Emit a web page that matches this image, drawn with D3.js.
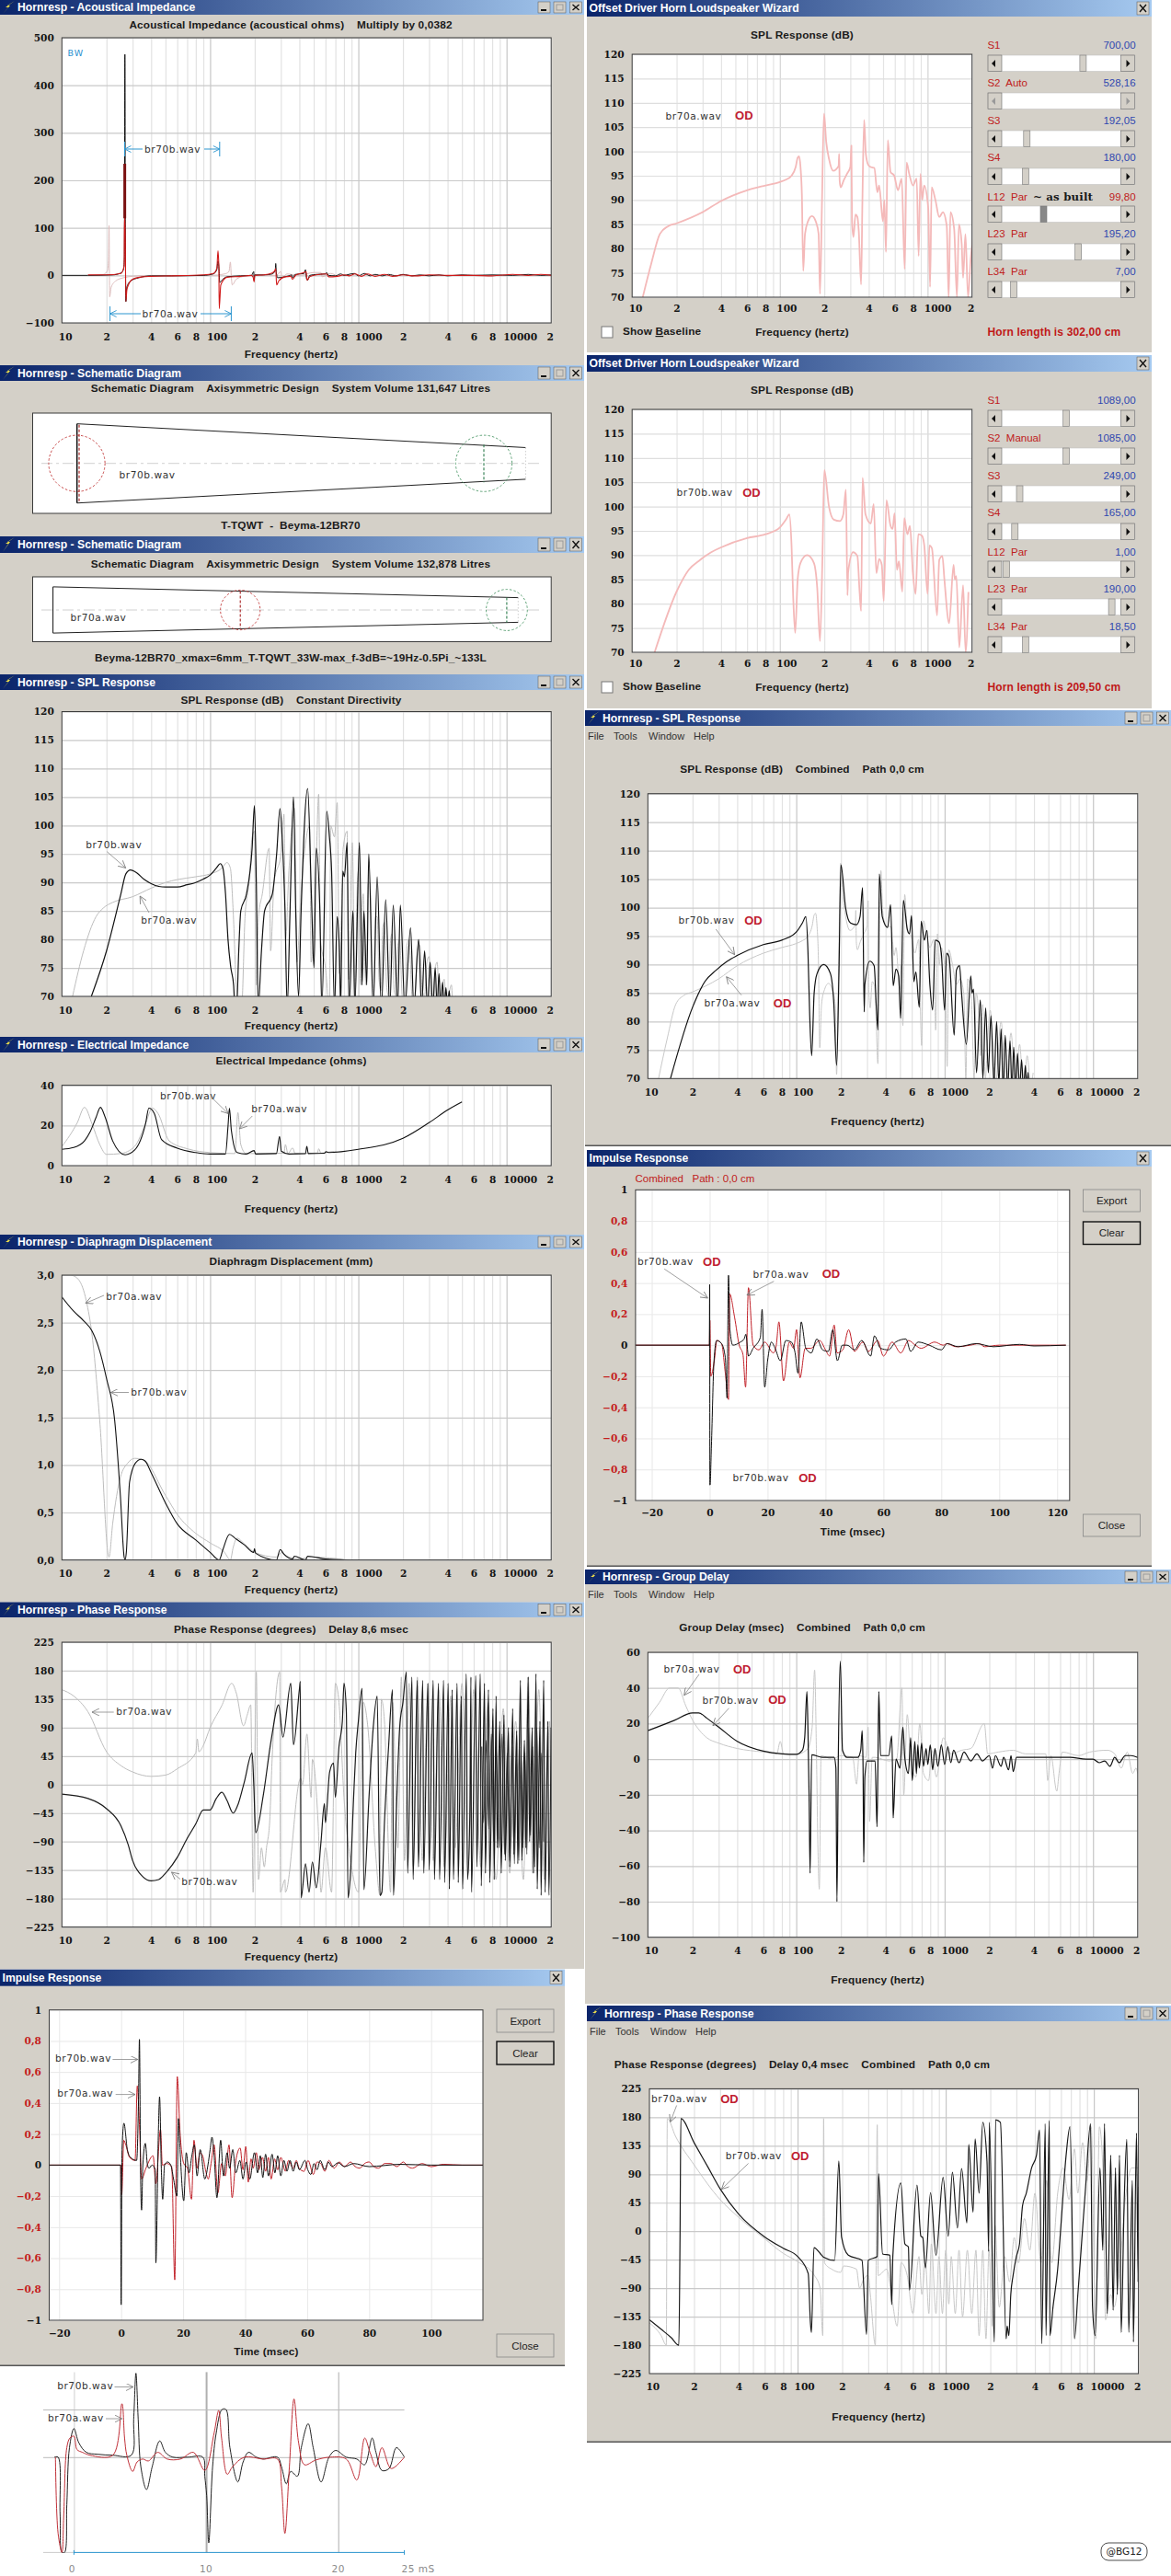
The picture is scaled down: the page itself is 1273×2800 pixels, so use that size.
<!DOCTYPE html>
<html><head><meta charset="utf-8">
<script src="https://cdn.jsdelivr.net/npm/d3@7/dist/d3.min.js"></script>
<style>
html,body{margin:0;padding:0;background:#fff}
svg{display:block}
text{font-family:"DejaVu Sans",sans-serif;white-space:pre}
.tick-l{font-family:"DejaVu Serif",serif;font-weight:700;font-size:10.6px;fill:#151515}
.ttl{font-family:"Liberation Sans",sans-serif;font-weight:700;font-size:11.8px;fill:#1a1a1a;letter-spacing:.15px}
.bar{font-family:"Liberation Sans",sans-serif;font-weight:700;font-size:12.2px;fill:#fff}
.ann{font-size:10.6px;fill:#333;letter-spacing:.55px}
.od{font-family:"Liberation Sans",sans-serif;font-weight:700;font-size:13px;fill:#c02030}
.menu{font-family:"Liberation Sans",sans-serif;font-size:11px;fill:#333}
.lab{font-family:"Liberation Sans",sans-serif;font-size:11.5px;fill:#c02020}
.val{font-family:"Liberation Sans",sans-serif;font-size:11.5px;fill:#3048b0;text-anchor:end}
</style></head><body><svg id="c" width="1273" height="2800"></svg>
<script>
// ---------- DATA (frequency Hz, value) ----------
const acousticBlack=[10,0,15,0,22,1,25,5,26,12,26.4,38,26.6,465,26.8,100,27,-55,27.4,-25,29,-12,33,-5,40,-1,55,-1,90,0,105,3,111,12,113,30,115,10,116,-15,120,-10,130,-3,160,-1,190,0,197,8,198,-10,200,1,230,1,262,3,275,10,277,25,280,5,285,-5,320,-3,340,-1,355,1,360,-5,375,2,430,4,440,12,448,-8,455,-10,470,0,520,2,600,3,610,6,630,0,700,-1,760,3,800,0,860,2,940,4,1000,-1,1100,4,1200,-1,1300,2,1450,-1,1600,2,1800,-1,2000,2,2300,-1,2600,1,3000,-1,3500,1,4000,-1,5000,1,6000,0,8000,1,11000,0,14000,2,17000,0,20000,1];
const acousticRed=[15,1,20,1,25,4,26.3,20,26.4,120,26.7,120,27,-55,27.5,-28,30,-8,35,-3,40,-2,55,-1,90,1,105,4,111,15,113,52,114.5,20,115.2,-70,118,-20,130,-4,160,-2,190,0,195,-4,198,-14,200,0,230,1,262,5,275,12,277,14,281,-20,290,-12,320,-3,350,-2,360,-8,380,1,430,6,445,8,450,-10,470,-3,520,1,610,3,630,-3,720,-2,800,1,870,-1,950,3,1050,-2,1150,3,1300,-2,1500,2,1700,-2,2000,1,2400,-1,3000,1,4000,0,6000,0,8000,-1,11000,2,14000,0,17000,2,20000,0];
const acousticRedPeak=[26.55,120,26.55,235];
const acousticPink=[15,0,19,2,20.3,10,20.6,30,20.8,105,21,-45,21.5,-25,23,-12,26,-5,30,-2,40,0,100,0,125,3,134,8,137,28,139,-3,141,-20,150,-8,170,-2,200,0,280,0,300,8,305,-5,330,3,400,0,500,6,560,6,570,-3,650,4,720,-2];
const splA4=[11.8,70,14,78,17,84,19,85.5,22,86.5,30,87.5,40,89,50,90,60,90.5,80,91,100,91.5,120,92.5,130,93.5,137,92.5,143,85,150,72,156,68,163,68,172,84,183,90,192,98,199,99,205,72,212,84,225,88,250,96,256,78,270,90,300,95,315,102,323,80,340,92,372,103,385,76,410,88,470,100,480,76,520,94,540,105.5,555,80,600,75,640,68,650,100,690,98,720,104,745,74,790,96,840,99,860,73,910,97,950,70,985,90,1000,92,1020,75,1040,72,1060,86,1080,88,1110,74,1130,72,1165,90,1200,90,1235,76,1270,70,1305,84,1340,84,1380,73,1420,71,1460,82,1500,83,1550,72,1600,70,1650,80,1690,81,1745,71,1800,70,1850,79,1900,80,1975,70,2050,68,2125,79,2200,80,2300,70,2400,68,2500,78,2600,79,2700,71,2800,70,2900,76,3000,77,3100,70,3200,68,3300,75,3400,76,3500,70,3600,68,3700,72,3800,73,3900,69,4000,68,4130,71,4250,72,4330,69,4400,69,4550,70,4700,68];
const splB4=[15.8,70,20,78,25,88,27,91.5,29,92.2,32,91.7,36,90.5,40,89.8,45,89.3,50,89.2,60,89.2,70,89.6,80,90,90,90.6,100,91.3,110,92.5,117,93.3,122,92.5,127,88,132,80,138,75,144,72,147,68,151,68,156,78,161,85,176,88,192,96,199,103.5,205,90,211,68,222,78,233,85,263,88,281,95,296,103,306,98,320,85,331,68,346,85,365,105,378,85,395,70,411,85,455,106.5,482,88,502,75,520,96,550,85,567,68,612,102.5,638,98,660,92,690,68,720,84,745,78,760,68,785,92,805,91,840,97,865,68,920,85,946,68,1017,97,1060,72,1090,85,1140,72,1175,95,1260,68,1340,91,1430,68,1530,87,1630,68,1720,86,1840,68,1920,86,2060,68,2250,82,2370,68,2550,80,2670,68,2800,78,2930,68,3050,76,3180,68,3300,75,3400,68,3500,74,3600,68,3700,72.5,3800,68,3900,71.5,4000,68,4100,71,4200,68,4300,69,4400,68];
const odA=[11.8,70,13.5,77,15.4,83,17.5,84.6,20,85.2,30,87.5,40,89.8,60,92,80,93,100,93.7,110,94.2,120,95,128,96.8,132,98.7,135,99,138,96.8,141,91,144,75.4,148,83,155,85.6,165,86.7,175,85.6,183,83,187,70.7,193,90,199,107.8,206,102,215,98.5,230,96,250,97,252,99.5,254,94,258,92.6,270,94,285,95.4,300,96.8,305,101.2,308,85.6,315,82.4,325,87,335,86.5,342,83.7,355,72.6,362,89.3,372,106.5,382,99.5,397,97.2,411,96.8,436,96.6,457,91.6,470,93,499,85.6,510,90,523,79.3,538,102.3,561,95.8,595,95,630,92,668,94.4,700,75.8,721,97.7,751,95.4,796,93,844,94.4,870,78.5,895,95.4,920,90,948,93,1010,88.4,1040,72.1,1066,92.6,1130,90,1200,86.5,1270,87.5,1348,84.7,1390,69.7,1428,87.5,1514,84,1580,70,1630,85,1702,81,1740,74,1804,83,1880,70,1960,78,2028,82,2200,69,2400,80,2600,69,2800,78,3000,69,3200,76,3400,68,3600,74,3800,69,3950,71];
const odB=[14.2,70,20,82.5,24.2,87,28.8,89,34.3,90.6,40,91.6,60,93.5,80,94.3,100,95.7,110,97.3,116,98.4,120,92,123,81.7,127,74,132,85,138,88.4,153,90,170,88.4,179,83.3,187,72.3,194,88.7,200,107.5,215,100,232,97.3,255,97,269,98.4,280,103.5,287,81.7,290,86.5,313,90.6,335,89.8,347,82.2,355,78.5,363,105.9,380,98.4,413,96.5,432,100.5,450,86.3,470,89.2,490,88,505,80.6,527,101.3,560,96.2,580,95.4,598,98.6,620,87,640,88.7,675,82.5,695,97.6,730,94.3,760,96,795,86.5,830,82,865,94.3,915,94,950,92,1000,82,1030,92,1070,91.4,1160,77.6,1200,89,1260,89.8,1300,85,1400,76,1500,88,1530,85,1565,85.7,1640,71,1740,83.8,1810,70,1890,82.4,1970,71,2050,81,2150,69,2240,80,2320,69,2400,78.7,2480,68,2560,77.6,2660,68,2760,76.6,2840,68,2920,75.5,3010,68,3100,74.4,3200,68,3300,73.3,3400,68,3500,72.3,3580,68,3650,71.1,3700,68,3750,70];
const impedB=[10,8.1,12,9,14.2,12.3,15.5,16.8,17,24,18.2,29,19.6,24,22,12.3,26.7,5.4,31,7.8,36.7,21,38.6,28.6,42,26,47,13,60,8.7,80,6.5,100,5.8,127,5.8,132,19.5,135,28.6,139,17.7,152,6.5,175,5.8,198,7.5,203,5.8,280,6,294,14.5,302,7.2,340,5.8,440,6,449,9.6,460,6,590,6.2,605,6.9,630,6.5,1000,8.1,2000,13.6,3000,21.4,4000,27.7,5000,31.7];
const impedA=[10,9.5,12.7,21.4,14.2,29,16,20.6,18,10.5,20,5.6,24.8,6,31,9.6,36.7,21,40.7,28.6,44.5,26,53,12.3,71,8.3,100,6.5,147,6,154,26.4,161,10.5,175,6,315,6.2,322,10.5,335,6,360,8.8,375,6,530,6.3,540,8.4,560,6.2,690,7.1,720,6.8];
const dispB=[10,2.77,12,2.62,14,2.52,16,2.41,18,2.2,20,1.91,22.7,1.47,24.8,.68,26.3,.03,26.7,0,27.2,.08,28.6,.82,31.3,1.02,34.2,1.06,36.5,1.04,40,.92,50,.6,60,.38,80,.21,100,.08,115,0,122,.11,135,.27,147,.23,170,.16,197,.08,199,.12,203,.07,280,0,297,.11,315,.06,360,.01,370,.04,440,0,455,.04,600,.01,800,0];
const dispA=[11.6,3,13,2.95,14.6,2.73,16,2.36,18,1.47,20.8,.03,22,.38,24.8,.87,27.8,1.02,31,1.07,35,1.06,50,.68,60,.48,80,.28,100,.18,125,.08,137,0,143,.13,152,.23,170,.17,200,.08,280,.03,305,.08,330,.04,400,.01,480,.03,860,0];
const phaseW_A=[10,150,12,140,15,115,20,52,25,30,30,20,40,13,50,15,60,25,80,50,82,72,84,52,90,62,100,90,120,125,140,160,150,145,168,93,178,110,188,126,195,-170,205,178,212,-150,222,-100,232,-130,240,-100,252,-60,262,40,295,178,298,-170,320,-150,322,-170,408,10,420,0,450,80,480,-20,490,40,535,-60,560,-170,600,-100,660,-170,700,160,740,130,800,-20,900,-130,1000,-170,1080,130,1160,90,1300,-100,1400,-175,1430,135,1500,100,1650,-170,1700,130,1850,-100,1950,170,2050,-120,2200,160,2350,-130,2500,170,2700,-120,2950,160,3200,-120,3500,150,3800,-130,4200,140,4500,-100,5000,160,5500,-140,6000,150,6700,-130,7500,130,8500,-150,9500,120,10500,-140,11500,100,13000,-150,14000,170,15000,-140,16500,150,18000,-150,19500,100,20000,-170];
const phaseW_B=[10,-15,15,-22,20,-38,25,-65,28,-95,30,-120,35,-145,40,-152,45,-150,50,-140,60,-115,70,-85,80,-62,90,-40,100,-40,110,-22,120,-12,130,-25,143,-45,155,-30,170,4,192,50,197,0,203,-76,228,-18,258,70,290,126,310,75,350,160,365,63,400,150,406,163,411,-179,440,-125,465,-170,490,-122,520,-163,560,-90,590,-30,600,-60,640,20,680,34,700,-20,740,60,780,100,800,160,830,115,852,-179,880,-150,930,-18,960,50,1000,100,1060,152,1090,-166,1180,-20,1260,90,1340,140,1400,-175,1440,-170,1500,-60,1600,60,1700,150,1725,-175,1800,-50,1900,90,2000,130,2110,178,2150,-140,2300,170,2340,-150,2500,165,2540,-130,2720,165,2760,-140,2950,160,3000,-135,3200,165,3260,-150,3470,160,3530,-150,3760,165,3820,-155,4040,160,4110,-165,4300,150,4380,-150,4640,160,4720,-155,4950,140,5050,-165,5350,175,5450,-150,5650,-50,5750,170,5800,-170,6200,172,6300,-130,6650,175,6750,-160,7100,160,7200,-140,7550,150,7700,-155,8100,120,8250,-150,8500,140,8650,-100,9000,100,9200,-140,9600,110,9800,-120,10300,90,10500,-130,11000,120,11200,-110,11700,85,11900,-125,12400,165,12700,-120,13200,70,13500,-100,14000,170,14300,-90,14900,90,15200,-140,15800,175,16100,-165,16800,100,17100,-175,17800,165,18200,-170,19000,100,19300,-175,20000,90];
const phaseW_Band=[6800,60,7000,-60,7300,70,7600,-70,7900,80,8200,-90,8500,60,8900,-100,9300,80,9700,-110,10100,50,10500,-120,10900,60,11300,-125,11700,40,12100,-120,12500,60,12900,-100,13300,50,13700,-110,14100,90,14500,-80,15000,60,15500,-130,16000,90,16600,-100,17200,50,17800,-90];
const phaseR_B=[10,-140,12,-155,14,-168,15.8,-180,16.1,0,16.3,178,20,140,25,100,30,67,40,27,60,-9,80,-27,100,-40,118,-67,122,-143,124,-160,129,-26,150,-41,178,-46,190,111,198,-9,220,-38,272,-46,292,-163,300,-46,345,-40,352,91,375,-36,420,-38,432,-116,440,-38,498,76,530,-20,560,-25,570,-93,640,73,680,-8,700,-10,730,-58,790,61,860,-38,960,85,1040,-8,1110,93,1200,5,1280,99,1390,13,1430,137,1530,30,1580,146,1680,60,1780,172,1900,110,1950,-32,1970,172,2130,-175,2170,176,2340,172,2560,-170,2600,-150,2670,-165,2750,-100,2850,-70,3000,-40,3150,-20,3300,40,3500,60,3800,100,4100,120,4300,160,4450,-178,4700,170,4750,-165,5000,175,5050,-165,5300,-120,5700,-60,6000,10,6500,120,6900,165,7400,-170,7800,-100,8200,-30,8800,70,9500,170,9800,-120,10200,-165,11000,100,11500,-30,11800,170,12300,-130,12600,-50,13000,120,13500,-125,14000,100,14400,-100,14900,120,15300,-160,16000,40,16700,145,17200,-160,18200,80,18500,-175,19400,155,19900,-80,20000,70];
const phaseR_A=[10,-145,12,-165,13,-180,13.2,178,15,150,20,105,30,50,40,22,60,-12,80,-35,100,-48,130,-70,142,-90,148,-165,150,178,152,-50,170,-60,195,-65,205,-55,250,-60,262,-90,280,-75,300,-70,310,-100,335,-180,345,168,350,-70,400,-60,430,-100,470,-150,500,-50,550,-70,600,-130,660,-40,690,-100,730,-50,770,-130,800,-20,860,-130,900,-40,950,-130,1000,-30,1050,-115,1090,-40,1160,-130,1230,-30,1300,-135,1400,-30,1500,-130,1600,-30,1680,-165,1780,-30,1870,-170,1960,-30,2060,-150,2150,10,2300,-120,2500,-40,2700,-80,2900,-10,3100,-50,3400,20,3700,-30,4000,60,4400,-50,4800,80,5200,-50,5700,60,6200,100,6800,50,7400,130,7800,60,8400,140,9000,80,9600,165,10300,-170,10900,165,11500,100,12000,-140,13000,-100,13700,-120,14500,-90,16500,60,18000,100,20000,100];
const gdB=[10,16,15,21.7,20,26,22,26,25,23,30,18,40,10,60,4.5,80,3,100,2.7,110,5,114,12,118,38,120,15,122,-20,124,-64,127,2.5,150,1,180,1,185,-5,188,-80,192,0,198,55,205,5,220,1,260,1,272,5,278,16,282,-5,285,-58,290,-10,300,-1,340,-1,350,-38,355,-5,360,38,370,2,420,2,440,13,447,-15,450,-33,470,0,500,-5,523,18,540,0,570,-8,590,12,605,-12,630,10,645,-8,660,8,675,-5,700,9,720,-4,750,6,770,-3,800,8,830,-6,860,6,900,-4,950,8,1000,-3,1050,7,1100,-2,1150,5,1250,-2,1350,4,1500,-1,1650,3,1800,-1,2000,2,2100,-5,2200,2,2400,-4,2500,1,2700,-6,2800,2,2900,-7,3050,1,3500,1,5000,1,7000,1,9000,0,10000,0,11000,-2,12000,-1,13000,-4,14000,1,15000,-2,16500,2,18000,2,20000,1];
const gdA=[10,23,12,32,14,40,16,40,18,30,20,22,25,12,30,9,40,6,60,4,74,3,78,10,82,3,100,2.7,120,6,128,18,133,50,137,0,140,-50,143,-73,147,2,175,0,200,2,240,1,255,-14,265,2,295,1,305,18,312,-35,325,1,340,1,420,-1,475,0,515,40,530,-20,560,25,590,0,640,-10,680,20,720,-8,780,-12,820,5,880,-10,980,12,1100,3,1300,5,1500,6,1850,20,1950,3,2300,4,2900,5,3500,3,4800,3,4950,-12,5200,2,5700,-18,5900,-8,6200,4,8000,2,9500,4,12500,5,14000,3,15500,-5,17000,4,18500,-8,19500,-5,20000,-8];
// impulse responses (msec, amplitude)
const impB=[-23.2,0,-.2,0,0,-.9,.3,.1,.9,.27,2,.1,3,.05,5,.03,5.6,.42,5.9,.81,6.3,-.1,6.6,-.29,7,0,7.8,.14,8.5,0,9,-.02,10,0,11,-.03,11.2,-.63,12,.2,12.4,.44,13,-.05,13.4,-.22,14,0,15,.02,16,0,17,-.1,18,-.2,18.5,.3,19,.1,20.2,-.23,21,.08,21.9,-.05,22.8,.06,23.6,.13,24.5,-.07,25.5,.1,27,-.09,28,0,28.7,.1,29.3,.18,30,.06,30.9,-.21,32.1,.16,33,-.07,34.2,.08,35,-.02,36,.1,37,-.05,38.3,.03,39.3,-.09,40.3,.02,41.5,-.09,43,.08,44,-.05,44.9,.06,45.7,-.08,46.6,.07,47.5,-.07,48.7,.07,49.6,-.05,50.5,.06,51.5,-.07,52.5,.03,53.5,-.04,54.5,.03,55.5,-.04,56.5,.02,57.5,-.03,59.3,.03,60.2,-.03,61.2,-.06,62.2,.01,63.2,-.03,64.2,.03,65.7,-.03,66.8,.02,68,-.01,70,.015,72,-.01,75,.01,80,-.01,90,.005,100,0,116.7,0];
const impR=[-23.2,0,-.1,0,.2,-.19,.85,.16,1.5,.13,2.7,.05,4.5,.03,5.2,.51,5.9,.26,6.6,-.09,8,-.02,10.3,.06,11.2,-.12,12.7,.23,13.3,0,14.8,.01,16.3,-.01,17.3,-.74,18.1,.57,19,.21,20.2,.01,21.4,-.02,22.7,-.22,23.5,.16,24.5,-.02,25.4,.08,26.3,.06,27.2,-.03,28.1,-.09,29,.01,30,.13,31.2,-.18,32.4,.01,33.6,-.07,34.8,.13,35.8,-.21,37,.03,38.4,.11,39.3,-.03,40.2,.12,41,-.11,41.9,.04,42.6,-.02,43.6,.08,44.4,-.03,45.6,.05,46.6,-.04,47.5,.05,48.4,-.09,49.5,.04,50.5,-.03,51.5,.05,53,-.04,54,.03,55.5,-.02,56.5,.03,57.4,-.02,59,-.04,60.3,.03,62,-.06,63.2,.02,64.4,.01,65.7,-.04,67,.03,68.7,-.02,70.4,.02,72,-.01,74,.02,75.5,-.01,77,-.02,78.5,.01,80,.02,81.5,-.01,83,-.02,85,.01,87,.01,89,-.01,91,.02,92.5,-.01,94,-.02,97,.01,100,-.01,104,.005,110,0,116.7,0];
const impCB=[-25.6,0,-.1,0,0,.39,.07,-.9,.13,-.9,.6,-.65,1.5,-.1,2.4,.03,4.1,.01,5.4,-.08,6,-.34,6.5,.45,7,.1,8,0,10.6,.02,11.9,.04,12.5,.07,13.4,-.07,15,-.02,17.5,.05,18.1,.23,19,-.27,20,-.1,21.3,.02,22.6,-.02,24.4,-.1,26.3,.03,28.2,.02,29.5,-.05,30.5,-.18,31.6,.15,33.2,-.02,35.1,-.05,37,.04,39,-.03,41,-.04,42.5,.1,44.1,-.1,45.8,0,47.5,0,50,-.03,52.5,.03,55.6,-.07,56.9,.06,59,-.02,61.7,-.03,64.2,.02,67.8,.04,69.4,-.04,72,.02,75.8,0,80,-.03,82,.01,85.8,-.01,92,.01,98,-.01,107,.005,112,-.005,123,0];
const impCR=[-25.6,0,-.1,0,.07,.16,.4,-.2,1.6,-.1,2.5,.03,4.1,.01,5.4,-.18,6.5,-.35,6.9,.33,8.6,.18,10.2,0,11.5,-.06,12.4,-.27,13.4,.37,15,0,17,-.03,19,.02,22,-.05,23,0,23.9,.15,25.5,-.23,27.5,.02,29,-.02,30,.1,31.2,-.21,33,-.02,34.9,-.02,38,.03,40,-.03,41.4,-.07,43,.13,44,-.05,46,-.03,48,.1,50,-.04,52.9,.02,54.8,-.04,58,.03,60,-.07,63,.02,66,-.05,68.7,.03,71,0,73,-.02,77.7,.02,80.6,0,82,.01,85,-.01,90,0,93,.01,95,-.01,100,0,106,0,123,0];
const zoomB=[-1.48,0,-1.2,0,-1.05,-.6,-.9,-1,-.71,-1,-.54,-.5,-.34,.1,0,.3,.37,.15,.94,.05,1.79,.03,2.94,.02,4.34,.02,4.52,.4,4.69,.88,4.86,.4,5.06,-.1,5.49,-.34,5.92,-.1,6.49,.17,6.92,.05,7.48,0,8.62,0,9.75,0,9.9,-.2,10.04,-.4,10.2,-.9,10.49,-.1,10.76,.25,11.2,.5,11.5,.5,11.8,.1,12.4,-.26,12.8,-.05,13.2,.05,13.8,0,14.3,-.02,15.4,0,15.7,-.1,16.07,-.28,16.4,-.15,16.9,-.2,17.2,.1,17.72,.35,18.1,.1,18.7,-.26,19.3,0,19.8,.07,20.6,0,21.4,-.02,21.99,-.08,22.56,.2,22.85,.05,23.3,-.14,23.84,-.12,24.4,.1,25,0];
const zoomR=[-1.4,0,-1.2,-.8,-.91,-1,-.77,-.6,-.54,.1,-.31,.2,0,.22,.23,.08,.65,.05,1.22,.02,2.94,.02,3.63,.56,3.83,.2,4.0,.02,4.44,-.15,4.78,-.05,5.2,-.02,5.63,-.04,6.34,.05,7.05,-.02,8.05,-.02,9.04,.05,9.9,-.14,10.6,.25,10.95,.49,11.17,.2,11.6,-.18,12.0,-.1,12.9,0,14.3,-.02,15.4,-.02,15.7,-.3,15.96,-.8,16.3,-.1,16.65,.61,17.0,.15,17.44,-.08,18.3,-.03,19.4,0,20.6,-.02,21.4,-.24,22.0,.2,22.4,.05,22.85,-.1,23.3,.1,24.0,-.12,25,0];
// schematics (cm)
const schemB={station:[0,209.5],half:[18.5,7.4],driver:1,port:190,driverHalf:18,portHalf:8.8};
const schemA={station:[0,121.6,302],half:[15,12.2,8],driver:121.6,port:294.6,driverHalf:12.2,portHalf:8};
// sliders
const sliderLabelsA=["S1","S2  Auto","S3","S4","L12  Par","L23  Par","L34  Par"];
const sliderValsA=["700,00","528,16","192,05","180,00","99,80","195,20","7,00"];
const sliderPosA=[.68,null,.21,.2,.35,.64,.1];
const sliderLabelsB=["S1","S2  Manual","S3","S4","L12  Par","L23  Par","L34  Par"];
const sliderValsB=["1089,00","1085,00","249,00","165,00","1,00","190,00","18,50"];
const sliderPosB=[.54,.54,.15,.11,.04,.92,.2];
const gridFreqLabels=[[10,"10"],[20,"2"],[40,"4"],[60,"6"],[80,"8"],[100,"100"],[200,"2"],[400,"4"],[600,"6"],[800,"8"],[1000,"1000"],[2000,"2"],[4000,"4"],[6000,"6"],[8000,"8"],[10000,"10000"],[20000,"2"]];
const INK="#111",GR="#bdbdbd",PINK="#f4b9b9",PGR="#dcbcbc";

// ---------- HELPERS ----------
const svg=d3.select("#c");
const pairs=a=>d3.range(0,a.length,2).map(i=>[a[i],a[i+1]]);
const zip=(t,v)=>t.map((d,i)=>[d,v[i]]);
let uid=0;
const defs=svg.append("defs");
const grad=defs.append("linearGradient").attr("id","tb");
grad.append("stop").attr("offset","0").attr("stop-color","#0a246a");
grad.append("stop").attr("offset","1").attr("stop-color","#a6caf0");
const mk=defs.append("marker").attr("id","ah").attr("markerWidth",9).attr("markerHeight",8).attr("refX",8).attr("refY",4).attr("orient","auto").attr("markerUnits","userSpaceOnUse");
mk.append("path").attr("d","M0,0L8,4L0,8").attr("fill","none").attr("stroke","#777").attr("stroke-width",.8);

function win(x,y,w,h,bar,barH,o={}){
  const g=svg.append("g");
  g.append("rect").attr("x",x).attr("y",y).attr("width",w).attr("height",h).attr("fill","#d4d0c8");
  if(o.edge)g.append("rect").attr("x",x).attr("y",y+h-1.5).attr("width",w).attr("height",1.5).attr("fill","#555");
  g.append("rect").attr("x",x).attr("y",y).attr("width",w).attr("height",barH).attr("fill","url(#tb)");
  let tx=x+2.5;
  if(o.icon){
    g.append("path").attr("d",`M${x+16},${y+1}L${x+6},${y+8}L${x+9},${y+8}L${x+3},${y+barH-1}L${x+11},${y+6}L${x+8},${y+6}Z`).attr("fill","#f2e24a");
    tx=x+19;
  }
  g.append("text").attr("class","bar").attr("x",tx).attr("y",y+barH/2+4).text(bar);
  const btn=(bx,ch)=>{
    g.append("rect").attr("x",bx).attr("y",y+2).attr("width",13).attr("height",barH-4).attr("fill","#d4d0c8").attr("stroke","#555").attr("stroke-width",.5);
    if(ch==="x")g.append("path").attr("d",`M${bx+3},${y+5}L${bx+10},${y+barH-5}M${bx+10},${y+5}L${bx+3},${y+barH-5}`).attr("stroke","#111").attr("stroke-width",1.4);
    if(ch==="m")g.append("path").attr("d",`M${bx+3},${y+barH-5}h6`).attr("stroke","#111").attr("stroke-width",2);
    if(ch==="s")g.append("rect").attr("x",bx+3).attr("y",y+5).attr("width",7).attr("height",barH-10).attr("fill","none").attr("stroke","#999");
  };
  const r=x+w;
  if(o.three){btn(r-50,"m");btn(r-33,"s");btn(r-15.5,"x");}
  else btn(r-16,"x");
  if(o.menu){
    ["File","Tools","Window","Help"].forEach((m,i)=>g.append("text").attr("class","menu").attr("x",x+[3,31,69,118][i]).attr("y",y+barH+15).text(m));
  }
}
function title(cx,y,t,cls="ttl"){
  svg.append("text").attr("class",cls).attr("x",cx).attr("y",y+4).attr("text-anchor","middle").text(t);
}
function ann(x,y,t,anchor="middle"){svg.append("text").attr("class","ann").attr("x",x).attr("y",y+4).attr("text-anchor",anchor).text(t);}
function od(x,y){svg.append("text").attr("class","od").attr("x",x).attr("y",y+4.5).attr("text-anchor","middle").text("OD");}
function arrow(x1,y1,x2,y2){svg.append("line").attr("x1",x1).attr("y1",y1).attr("x2",x2).attr("y2",y2).attr("stroke","#888").attr("stroke-width",.8).attr("marker-end","url(#ah)");}

function chart(c){
  const g=svg.append("g");
  const W=c.x1-c.x0,H=c.y1-c.y0;
  g.append("rect").attr("x",c.x0).attr("y",c.y0).attr("width",W).attr("height",H).attr("fill","#fff");
  const y=d3.scaleLinear().domain(c.yDomain).range([c.y1,c.y0]);
  const log=!c.time;
  const x=log?d3.scaleLog().domain(c.xDomain||[10,20000]).range([c.x0,c.x1]):d3.scaleLinear().domain(c.xDomain).range([c.x0,c.x1]);
  let vt;
  if(log){
    vt=[];[10,100,1000,10000].forEach(k=>{for(let m=1;m<10;m++){const f=k*m;if(f>=x.domain()[0]&&f<=x.domain()[1])vt.push(f);}});
    const minor=vt.filter(f=>![10,100,1000,10000].includes(f));
    g.append("g").attr("transform",`translate(0,${c.y1})`).call(d3.axisBottom(x).tickValues(minor).tickSize(-H).tickFormat("")).call(s=>{s.select(".domain").remove();s.selectAll("line").attr("stroke",c.minorGrid||"#e2e2e2").attr("stroke-width",1.2)});
    g.append("g").attr("transform",`translate(0,${c.y1})`).call(d3.axisBottom(x).tickValues([100,1000,10000].filter(f=>f<=x.domain()[1])).tickSize(-H).tickFormat("")).call(s=>{s.select(".domain").remove();s.selectAll("line").attr("stroke",c.majorGrid||"#c6c6c6").attr("stroke-width",1.2)});
  }else{
    g.append("g").attr("transform",`translate(0,${c.y1})`).call(d3.axisBottom(x).tickValues(c.xTicks).tickSize(-H).tickFormat("")).call(s=>{s.select(".domain").remove();s.selectAll("line").attr("stroke","#e8e8e8")});
  }
  g.append("g").attr("transform",`translate(${c.x0},0)`).call(d3.axisLeft(y).tickValues(c.yTicks).tickSize(-W).tickFormat("")).call(s=>{s.select(".domain").remove();s.selectAll("line").attr("stroke",c.time?"#e8e8e8":(c.hGrid||"#c9c9c9")).attr("stroke-width",c.time?1:1.2)});
  const id="clip"+(uid++);
  defs.append("clipPath").attr("id",id).append("rect").attr("x",c.x0).attr("y",c.y0).attr("width",W).attr("height",H);
  const line=d3.line().x(d=>x(d[0])).y(d=>y(d[1])).curve(d3.curveMonotoneX);
  const sg=g.append("g").attr("clip-path",`url(#${id})`);
  c.series.forEach(s=>sg.append("path").attr("d",line(s.d)).attr("fill","none").attr("stroke",s.c).attr("stroke-width",s.w||1.1).attr("stroke-linejoin","round"));
  g.append("rect").attr("x",c.x0).attr("y",c.y0).attr("width",W).attr("height",H).attr("fill","none").attr("stroke","#3a3a3a").attr("stroke-width",1);
  const fmtY=new Map(c.yTicks.map((v,i)=>[v,c.yLabels?c.yLabels[i]:String(v).replace("-","\u2212")]));
  const ya=g.append("g").attr("transform",`translate(${c.x0-8.5},0)`).call(d3.axisLeft(y).tickValues(c.yTicks).tickSize(0).tickPadding(0).tickFormat(d=>fmtY.get(d)));
  ya.select(".domain").remove();
  ya.selectAll("text").attr("class","tick-l").style("fill",d=>(c.redY&&d!==0&&Math.abs(d)!==1)?"#c41e1e":null);
  const lab=c.xLabelY-c.y1;
  if(log){
    const lf=gridFreqLabels.filter(d=>d[0]<=x.domain()[1]);
    const fm=new Map(lf);
    const xa=g.append("g").attr("transform",`translate(0,${c.y1})`).call(d3.axisBottom(x).tickValues(lf.map(d=>d[0])).tickSize(0).tickPadding(lab-5).tickFormat(d=>fm.get(d)));
    xa.select(".domain").remove();
    xa.selectAll("text").attr("class","tick-l").each(function(d){
      if([10,100,1000,10000].includes(d))d3.select(this).attr("text-anchor","start").attr("dx",-4);
      else if(d===x.domain()[1])d3.select(this).attr("dx",-1.5);
    });
  }else{
    const xa=g.append("g").attr("transform",`translate(0,${c.y1})`).call(d3.axisBottom(x).tickValues(c.xTicks).tickSize(0).tickPadding(lab-5).tickFormat(d=>String(d).replace("-","\u2212")));
    xa.select(".domain").remove();
    xa.selectAll("text").attr("class","tick-l");
  }
  if(c.xTitle)title(c.xTitleCx||(c.x0+c.x1)/2,c.xTitleY,c.xTitle);
  return {x,y};
}
const Lx={x0:67.3,x1:599.2},Rx={x0:704.3,x1:1236.8};
const spl=[70,75,80,85,90,95,100,105,110,115,120];
const phaseT=[-225,-180,-135,-90,-45,0,45,90,135,180,225];
const impT=[-1,-.8,-.6,-.4,-.2,0,.2,.4,.6,.8,1];
const impL=["\u22121","\u22120,8","\u22120,6","\u22120,4","\u22120,2","0","0,2","0,4","0,6","0,8","1"];
const FH="Frequency (hertz)";

// ---------- LEFT COLUMN ----------
win(0,0,635,397,"Hornresp - Acoustical Impedance",16,{icon:1,three:1});
title(316,26.5,"Acoustical Impedance (acoustical ohms)    Multiply by 0,0382");
chart({...Lx,y0:41,y1:351,yDomain:[-100,500],yTicks:[-100,0,100,200,300,400,500],xLabelY:367,xTitle:FH,xTitleY:384.5,xTitleCx:316.5,
 series:[{d:pairs(acousticPink),c:PGR,w:1},{d:pairs(acousticBlack),c:INK,w:1},{d:pairs(acousticRed),c:"#d01818",w:1.1},{d:pairs(acousticRedPeak),c:"#7a1010",w:3}]});
svg.append("text").attr("x",73.5).attr("y",61).attr("font-size",9.5).attr("fill","#2b8fcf").attr("letter-spacing",1).text("BW");
function blueSpan(x1,x2,y,tx1,tx2){
  const B="#2b95cf";
  [[tx1,x1],[tx2,x2]].forEach(([a,b])=>svg.append("line").attr("x1",a).attr("y1",y).attr("x2",b).attr("y2",y).attr("stroke",B).attr("stroke-width",1));
  [x1,x2].forEach(v=>svg.append("line").attr("x1",v).attr("x2",v).attr("y1",y-8).attr("y2",y+8).attr("stroke",B).attr("stroke-width",1));
  [[x1,1],[x2,-1]].forEach(([v,d])=>svg.append("path").attr("d",`M${v+d*7},${y-3.5}L${v},${y}L${v+d*7},${y+3.5}`).attr("fill","none").attr("stroke",B).attr("stroke-width",.9));
}
blueSpan(135.5,238.8,162,155,222);ann(187.5,162,"br70b.wav");
blueSpan(119.6,251.4,341,153,218);ann(185,341,"br70a.wav");

function schematic(s,b,left,right,cy,pxR,driverR,portR){
  const x=d3.scaleLinear().domain([0,d3.max(s.station)]).range([left,right]);
  const k=(right-left)/d3.max(s.station);
  const g=svg.append("g");
  g.append("line").attr("x1",b.x0).attr("x2",b.x1).attr("y1",cy).attr("y2",cy).attr("stroke","#d0d0d0").attr("stroke-dasharray","12 4 3 4");
  const top=d3.line().x(d=>x(d[0])).y(d=>cy-d[1]*k),bot=d3.line().x(d=>x(d[0])).y(d=>cy+d[1]*k);
  const pts=zip(s.station,s.half);
  g.append("path").attr("d",top(pts)).attr("fill","none").attr("stroke","#222").attr("stroke-width",1);
  g.append("path").attr("d",bot(pts)).attr("fill","none").attr("stroke","#222").attr("stroke-width",1);
  g.append("line").attr("x1",left).attr("x2",left).attr("y1",cy-s.half[0]*k).attr("y2",cy+s.half[0]*k).attr("stroke","#111").attr("stroke-width",b.wall||1);
  const last=s.half[s.half.length-1];
  g.append("line").attr("x1",right).attr("x2",right).attr("y1",cy-last*k).attr("y2",cy+last*k).attr("stroke","#ccc").attr("stroke-dasharray","1.5 2");
  g.append("circle").attr("cx",x(s.driver)-(b.dshift||0)).attr("cy",cy).attr("r",driverR).attr("fill","none").attr("stroke","#c23a3a").attr("stroke-width",.9).attr("stroke-dasharray","2.5 2");
  g.append("line").attr("x1",x(s.driver)).attr("x2",x(s.driver)).attr("y1",cy-s.driverHalf*k).attr("y2",cy+s.driverHalf*k).attr("stroke","#a82020").attr("stroke-width",1.1).attr("stroke-dasharray","3 2");
  g.append("circle").attr("cx",x(s.port)).attr("cy",cy).attr("r",portR).attr("fill","none").attr("stroke","#4f9a6a").attr("stroke-width",.9).attr("stroke-dasharray","2.5 2");
  g.append("line").attr("x1",x(s.port)).attr("x2",x(s.port)).attr("y1",cy-s.portHalf*k).attr("y2",cy+s.portHalf*k).attr("stroke","#2e7d4e").attr("stroke-width",1.1).attr("stroke-dasharray","3 2");
}
win(0,397,635,186,"Hornresp - Schematic Diagram",17,{icon:1,three:1});
title(316,422,"Schematic Diagram    Axisymmetric Design    System Volume 131,647 Litres");
svg.append("rect").attr("x",35.5).attr("y",449).attr("width",563.7).attr("height",109).attr("fill","#fff").attr("stroke","#3a3a3a");
schematic(schemB,{x0:45,x1:590,wall:1.5,dshift:2.5},83.7,571.4,503.7,0,30.6,30.6);
ann(160,516,"br70b.wav");
title(316,571,"T-TQWT  -  Beyma-12BR70");

win(0,583,635,150,"Hornresp - Schematic Diagram",18,{icon:1,three:1});
title(316,613,"Schematic Diagram    Axisymmetric Design    System Volume 132,878 Litres");
svg.append("rect").attr("x",35.5).attr("y",627).attr("width",563.7).attr("height",70.5).attr("fill","#fff").attr("stroke","#3a3a3a");
schematic(schemA,{x0:45,x1:590},57.6,563.3,663,0,21.6,22.4);
ann(107,671,"br70a.wav");
title(316,715,"Beyma-12BR70_xmax=6mm_T-TQWT_33W-max_f-3dB=~19Hz-0.5Pi_~133L");

win(0,733,635,394,"Hornresp - SPL Response",17,{icon:1,three:1});
title(316.5,760.5,"SPL Response (dB)    Constant Directivity");
chart({...Lx,y0:773.5,y1:1083,yDomain:[70,120],yTicks:spl,xLabelY:1099,xTitle:FH,xTitleY:1115,xTitleCx:316.5,
 series:[{d:pairs(splA4),c:GR,w:1},{d:pairs(splB4),c:INK,w:1.2}]});
ann(123.7,918,"br70b.wav");arrow(116.3,925.7,136.7,943.5);
ann(183.7,1000,"br70a.wav");arrow(162,992,152.2,974);

win(0,1127,635,215,"Hornresp - Electrical Impedance",17,{icon:1,three:1});
title(316.5,1153,"Electrical Impedance (ohms)");
chart({...Lx,y0:1179.6,y1:1267,yDomain:[0,40],yTicks:[0,20,40],xLabelY:1283,xTitle:FH,xTitleY:1314,xTitleCx:316.5,
 series:[{d:pairs(impedA),c:GR,w:1},{d:pairs(impedB),c:INK,w:1.1}]});
ann(204.5,1191,"br70b.wav");arrow(230.6,1193.4,248,1210.4);
ann(303.7,1205,"br70a.wav");arrow(274.3,1213,260.4,1227);

win(0,1342,635,399.5,"Hornresp - Diaphragm Displacement",16,{icon:1,three:1});
title(316.5,1370.6,"Diaphragm Displacement (mm)");
chart({...Lx,y0:1386,y1:1695.6,yDomain:[0,3],yTicks:[0,.5,1,1.5,2,2.5,3],yLabels:["0,0","0,5","1,0","1,5","2,0","2,5","3,0"],xLabelY:1711,xTitle:FH,xTitleY:1728,xTitleCx:316.5,
 series:[{d:pairs(dispA),c:GR,w:1},{d:pairs(dispB),c:INK,w:1.1}]});
ann(145.7,1409,"br70a.wav");arrow(113,1408,93,1416.5);
ann(172.7,1513,"br70b.wav");arrow(140,1513.5,120.4,1513.5);

win(0,1741.5,635,398.5,"Hornresp - Phase Response",16.5,{icon:1,three:1});
title(316.5,1770.6,"Phase Response (degrees)    Delay 8,6 msec");
chart({...Lx,y0:1785,y1:2094.6,yDomain:[-225,225],yTicks:phaseT,xLabelY:2110,xTitle:FH,xTitleY:2127,xTitleCx:316.5,
 series:[{d:pairs(phaseW_A),c:GR,w:1},{d:pairs(phaseW_Band),c:"#555",w:1.2},{d:pairs(phaseW_B),c:"#1b1b1b",w:1.2}]});
ann(156.7,1860.4,"br70a.wav");arrow(123.7,1861,100,1861);
ann(227.8,2044.6,"br70b.wav");arrow(196,2042.6,186.5,2035);

function button(x,y,w,h,t,def){
  svg.append("rect").attr("x",x).attr("y",y).attr("width",w).attr("height",h).attr("fill","#d4d0c8").attr("stroke",def?"#111":"#888").attr("stroke-width",def?1.4:.8);
  svg.append("text").attr("x",x+w/2).attr("y",y+h/2+4).attr("text-anchor","middle").attr("font-family","Liberation Sans").style("font-family","Liberation Sans").attr("font-size",11.5).attr("fill","#222").text(t);
}
win(0,2140.7,614,431.3,"Impulse Response",18,{edge:1});
chart({x0:53.5,x1:525,y0:2184.7,y1:2522,time:1,xDomain:[-23.2,116.7],xTicks:[-20,0,20,40,60,80,100],yDomain:[-1,1],yTicks:impT,yLabels:impL,redY:1,xLabelY:2537,xTitle:"Time (msec)",xTitleY:2555.6,xTitleCx:289.5,
 series:[{d:pairs(impR),c:"#c02028",w:1},{d:pairs(impB),c:INK,w:1}]});
button(540,2184,62,25,"Export");button(540,2219,62,25,"Clear",1);button(540,2537,62,25,"Close");
ann(90.6,2237,"br70b.wav");arrow(122.4,2238.5,149.8,2238.5);
ann(92.7,2275,"br70a.wav");arrow(125.7,2276.6,147,2276.6);

(function(){
  const x=d3.scaleLinear().domain([0,25]).range([80.4,439.6]);
  const y=d3.scaleLinear().domain([-1,.5]).range([2774.4,2619]);
  const g=svg.append("g");
  const xa=g.append("g").attr("transform","translate(0,2774.4)").call(d3.axisBottom(x).tickValues([0,10,20]).tickSize(196).tickFormat(""));
  xa.select(".domain").remove();
  xa.selectAll("line").attr("transform","translate(0,-196)").attr("stroke",d=>d===10?"#b0b0b0":d===20?"#c4c4c4":"#ddd").attr("stroke-width",d=>d===10?2:1.4);
  const ya=g.append("g").attr("transform","translate(47,0)").call(d3.axisRight(y).tickValues([.5,0]).tickSize(392.6).tickFormat(""));
  ya.select(".domain").remove();ya.selectAll("line").attr("stroke","#bbb");
  g.append("line").attr("x1",47).attr("x2",x(0)).attr("y1",y(-1)).attr("y2",y(-1)).attr("stroke","#ccc");
  g.append("line").attr("x1",x(0)).attr("x2",x(25)).attr("y1",y(-1)).attr("y2",y(-1)).attr("stroke","#2b95cf").attr("stroke-width",1);
  [0,25].forEach(t=>g.append("line").attr("x1",x(t)).attr("x2",x(t)).attr("y1",y(-1)-2.5).attr("y2",y(-1)+2.5).attr("stroke","#2b95cf"));
  const l=d3.line().x(d=>x(d[0])).y(d=>y(d[1])).curve(d3.curveCatmullRom.alpha(.5));
  const id="clip"+(uid++);
  defs.append("clipPath").attr("id",id).append("rect").attr("x",40).attr("y",2578).attr("width",410).attr("height",197);
  const sg=g.append("g").attr("clip-path",`url(#${id})`);
  sg.append("path").attr("d",l(pairs(zoomB))).attr("fill","none").attr("stroke","#222").attr("stroke-width",1);
  sg.append("path").attr("d",l(pairs(zoomR))).attr("fill","none").attr("stroke","#c03038").attr("stroke-width",1);
  [[0,"0"],[10,"10"],[20,"20"],[25,"25 mS"]].forEach(([t,s])=>g.append("text").attr("x",t===25?x(t)+15:x(t)-(t===0?2:0)).attr("y",2796).attr("text-anchor","middle").attr("font-size",10.5).attr("fill","#8a8a8a").attr("letter-spacing",.5).text(s));
})();
ann(92.7,2593,"br70b.wav");arrow(124.5,2594.5,145,2594.5);
ann(82.4,2628,"br70a.wav");arrow(115,2629,132.7,2629);

// ---------- RIGHT COLUMN ----------
function wizard(y,bar,labels,vals,pos,curve,annX,annT,odX,annY,lenText,dy,special){
  const yy=v=>y+v;
  win(638,y,614,dy.h,bar,18,{});
  title(872,yy(38),"SPL Response (dB)");
  chart({x0:687.2,x1:1056.7,y0:yy(59),y1:yy(323),xDomain:[10,2000],yDomain:[70,120],yTicks:spl,xLabelY:yy(336.5),
   series:[{d:pairs(curve),c:PINK,w:1.8}],minorGrid:"#e4e4e4",majorGrid:"#d4d4d4",hGrid:"#dedede"});
  svg.append("rect").attr("x",654).attr("y",yy(355)).attr("width",12).attr("height",12).attr("fill","#fff").attr("stroke","#777");
  const sb=svg.append("text").attr("class","ttl").attr("x",677).attr("y",yy(364));
  sb.append("tspan").text("Show ");sb.append("tspan").attr("text-decoration","underline").text("B");sb.append("tspan").text("aseline");
  title(872,yy(360.5),"Frequency (hertz)");
  svg.append("text").attr("class","ttl").attr("x",1073.4).attr("y",yy(364.5)).style("fill","#c01818").style("font-size","12px").text(lenText);
  ann(annX,annY,annT);od(odX,annY);
  const trackTop=[60,101,142,183,224,265,306],labTop=[48.6,89.6,130.5,171,213.5,253.5,294.5];
  labels.forEach((t,i)=>{
    const ty=yy(labTop[i]);
    svg.append("text").attr("class","lab").attr("x",1073.4).attr("y",ty+4).text(t);
    const v=svg.append("text").attr("class","val").attr("x",1234.6).attr("y",ty+4).text(vals[i]);
    if(special&&i===4){v.style("fill","#c02020");svg.append("text").attr("class","ttl").attr("x",1123).attr("y",ty+4).style("font-family","DejaVu Serif").text("~ as built");}
    const tt=yy(trackTop[i]),th=17.5;
    const sx=d3.scaleLinear().domain([0,1]).range([1089,1219]);
    svg.append("rect").attr("x",1074).attr("y",tt).attr("width",160).attr("height",th).attr("fill","#fff").attr("stroke","#bbb").attr("stroke-width",.5);
    [[1074,"M8,5L4,9L8,13"],[1218.5,"M6,5L10,9L6,13"]].forEach(([bx,p])=>{
      svg.append("rect").attr("x",bx).attr("y",tt).attr("width",15).attr("height",th).attr("fill","#d4d0c8").attr("stroke","#666").attr("stroke-width",.6);
      svg.append("path").attr("d",p).attr("transform",`translate(${bx},${tt})`).attr("fill",pos[i]===null?"#999":"#111");
    });
    if(pos[i]!==null)svg.append("rect").attr("x",sx(pos[i])-3.5).attr("y",tt).attr("width",7).attr("height",th).attr("fill",i===4&&special?"#888":"#d4d0c8").attr("stroke","#777").attr("stroke-width",.6);
  });
}
wizard(0,"Offset Driver Horn Loudspeaker Wizard",sliderLabelsA,sliderValsA,sliderPosA,odA.slice(0,odA.indexOf(2028)+2),753.9,"br70a.wav",808.8,125.7,"Horn length is 302,00 cm",{h:383},true);
wizard(386,"Offset Driver Horn Loudspeaker Wizard",sliderLabelsB,sliderValsB,sliderPosB,odB.slice(0,odB.indexOf(1970)),766,"br70b.wav",817,535,"Horn length is 209,50 cm",{h:384},false);

win(636,772,637,474,"Hornresp - SPL Response",17,{icon:1,three:1,menu:1,edge:1});
title(872,836,"SPL Response (dB)    Combined    Path 0,0 cm");
chart({...Rx,y0:862.7,y1:1172.3,yDomain:[70,120],yTicks:spl,xLabelY:1188,xTitle:FH,xTitleY:1219,xTitleCx:954,
 series:[{d:pairs(odA),c:"#c8c8c8",w:1},{d:pairs(odB),c:INK,w:1.2}]});
ann(768,1000,"br70b.wav");od(819,1000);arrow(778.3,1010,798.6,1037.7);
ann(796,1090,"br70a.wav");od(850.6,1090);arrow(806,1081.7,789.7,1061.7);

win(638,1250,614,453,"Impulse Response",18,{edge:1});
svg.append("text").attr("class","lab").attr("x",690.5).attr("y",1285).text("Combined");
svg.append("text").attr("class","lab").attr("x",752.5).attr("y",1285).text("Path : 0,0 cm");
chart({x0:690.9,x1:1162.8,y0:1293.3,y1:1631,time:1,xDomain:[-25.6,124.3],xTicks:[-20,0,20,40,60,80,100,120],yDomain:[-1,1],yTicks:impT,yLabels:impL,redY:1,xLabelY:1645.7,xTitle:"Time (msec)",xTitleY:1664.7,xTitleCx:927,
 series:[{d:pairs(impCR),c:"#c02028",w:1},{d:pairs(impCB),c:INK,w:1}]});
button(1177.5,1293,62,24,"Export");button(1177.5,1328,62,24.5,"Clear",1);button(1177.5,1646,62,24,"Close");
ann(723.4,1371,"br70b.wav");od(773.8,1371);arrow(722.2,1379.3,769.3,1411);
ann(849,1384.7,"br70a.wav");od(903.5,1384.7);arrow(841.3,1392.7,812,1407.7);
ann(827,1606,"br70b.wav");od(877.9,1606);

win(636,1706,637,472,"Hornresp - Group Delay",16,{icon:1,three:1,menu:1});
title(872,1769,"Group Delay (msec)    Combined    Path 0,0 cm");
chart({...Rx,y0:1796,y1:2105.7,yDomain:[-100,60],yTicks:[-100,-80,-60,-40,-20,0,20,40,60],xLabelY:2121.7,xTitle:FH,xTitleY:2152,xTitleCx:954,
 series:[{d:pairs(gdA),c:"#c8c8c8",w:1},{d:pairs(gdB),c:INK,w:1.2}]});
ann(751.9,1814,"br70a.wav");od(806.7,1814);arrow(760,1820,743.7,1842.7);
ann(794,1847.7,"br70b.wav");od(845,1847.7);arrow(792.5,1856.7,775,1875.7);

win(638,2180,635,475,"Hornresp - Phase Response",17,{icon:1,three:1,menu:1,edge:1});
title(872,2244,"Phase Response (degrees)    Delay 0,4 msec    Combined    Path 0,0 cm");
chart({x0:706,x1:1237.6,y0:2270.4,y1:2580,yDomain:[-225,225],yTicks:phaseT,xLabelY:2595.7,xTitle:FH,xTitleY:2626.6,xTitleCx:955,
 series:[{d:pairs(phaseR_A),c:"#c8c8c8",w:1},{d:pairs(phaseR_B),c:"#181818",w:1.2}]});
ann(738.4,2281,"br70a.wav");od(793,2281);arrow(735.6,2288.5,728.7,2306.5);
ann(819.3,2343,"br70b.wav");od(869.7,2343);arrow(813.6,2351.5,784.4,2379.6);

svg.append("rect").attr("x",1197).attr("y",2764).attr("width",50).attr("height",19).attr("rx",8).attr("fill","#fff").attr("stroke","#222").attr("stroke-width",.8);
svg.append("text").attr("x",1222).attr("y",2777).attr("text-anchor","middle").attr("font-size",10.5).attr("fill","#222").text("@BG12");
</script></body></html>
